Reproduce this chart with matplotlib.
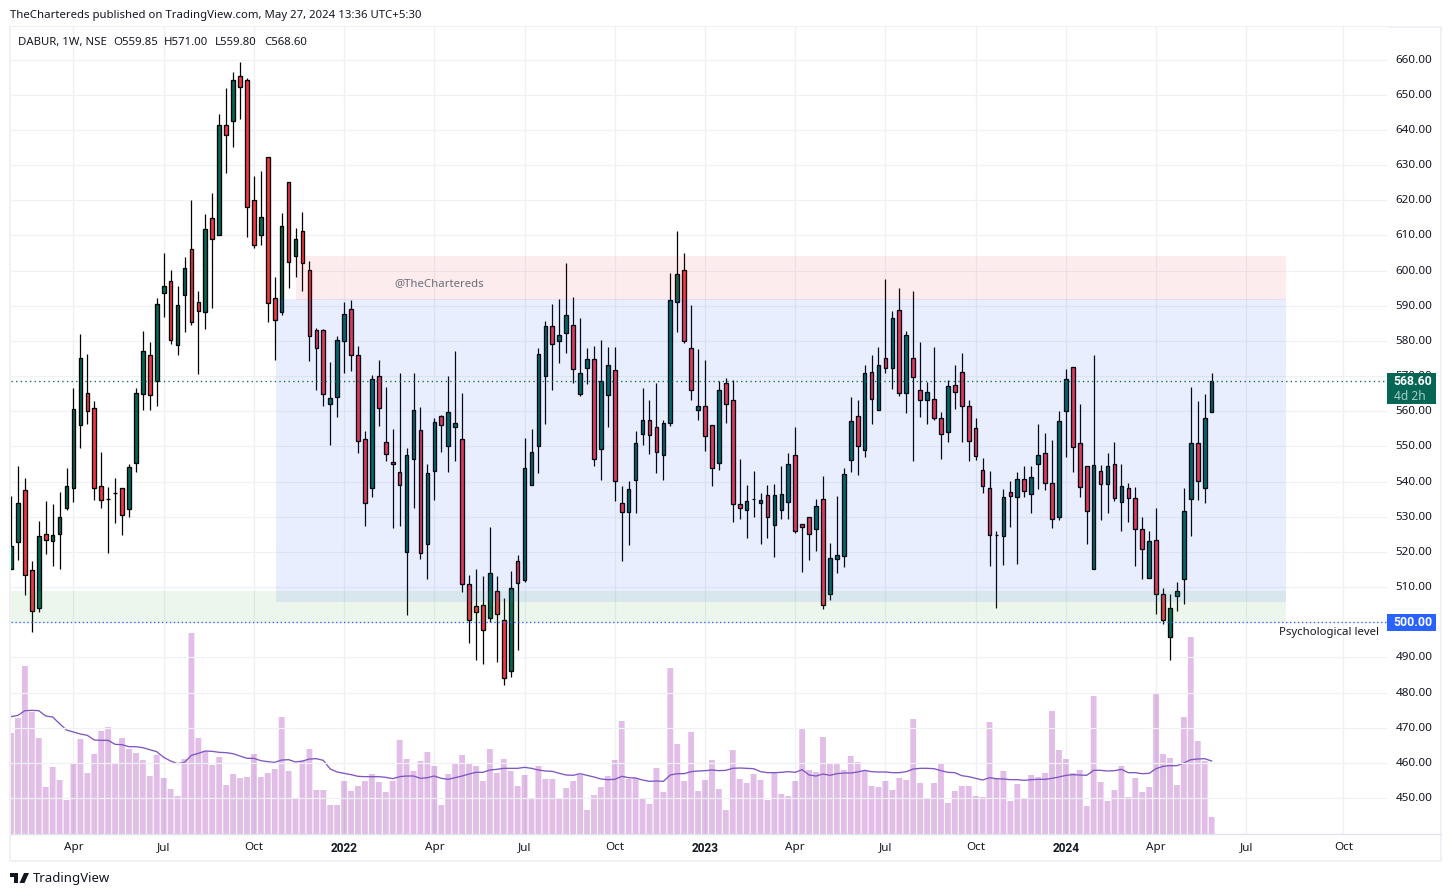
import matplotlib
matplotlib.use("Agg")
import matplotlib.pyplot as plt
from matplotlib.patches import Rectangle, Polygon
from matplotlib.lines import Line2D
from matplotlib.transforms import ScaledTranslation

opens = [515.1,522.8,537.6,514.8,504,525.1,523.1,525.1,532.4,538.2,556,565.2,560.9,538.7,535,536.7,538.2,532.2,545.2,564.8,
576,568.5,593.6,597,578.8,593,606.2,591.1,588.2,615,610.1,641.5,642.6,655.2,654.3,620.1,610.1,632.4,592.2,588.2,
625.2,604.2,611.3,600.2,583.1,583.1,562,564,580,589.2,576.1,552.1,538.1,570.1,551.3,545.6,542.7,519.9,546.4,554.7,
522.2,543,558.7,550.1,555.6,552.1,510.8,504.6,504.8,501.3,508.8,500.6,486.2,517.4,512,539,550.1,570.1,584.3,580,
582.3,584.6,565,572.4,574.9,549.2,564.7,571.8,533.9,531.3,540.5,553.6,557.5,555.6,547.6,556.7,591.2,600.3,578.1,560.3,
561.5,556.1,545.3,568.1,563.2,533.6,531.9,535,533.9,536.2,527.6,531.9,534.2,547.6,527.9,529.9,526.5,535,508,517.9,
518.8,546.2,558.7,549,571.2,560.4,575.2,572.4,588.9,565.2,575.2,566.1,563.2,563.5,558.1,554.1,567.5,571.2,561.5,555.3,
543.3,538.2,524.8,524.5,537,535.6,540.7,536.5,545,548.1,539.6,529.9,560.1,572.6,551,544.4,515.1,543,539.3,545,
534.2,538.2,535.3,526.5,512.5,523.4,508,495.7,507.4,512.3,535,551,538.2,559.85]
highs = [536,544.5,541.1,517.5,528.8,534.6,533.7,537.1,544,566.5,582,576.2,562.8,548.5,538.6,541.1,538.2,545.1,566.5,582.9,
579.8,592.3,605.1,600.3,595.7,604,620.2,594.3,616.2,622.2,644.4,651.8,656.4,659.2,654.7,626.8,628.2,632.4,598.3,616.5,
625.2,612.2,616.8,602.8,583.7,583.4,574.1,581.5,591.2,591.5,578.7,554.4,570.4,574.7,567,555.1,571,549.6,571,561.1,
545,558.1,558.9,569.9,577,565.3,513.5,515.2,513.2,527.2,513.2,506.9,514.5,519.1,552.4,555.1,578.1,585.6,590.6,591.8,
602.3,592.4,586.4,578.1,578.7,580.2,578.4,578.2,538.7,540.2,554.4,566.7,563.2,568.1,557.5,599.2,611.2,605.1,590.1,577.6,
574.5,556.1,568.6,569.6,569,546.5,539.1,543.1,536.8,539.1,539.4,544.5,548.2,555.4,528,530,535.1,541.7,522.6,536,
544,564.2,563.3,573.3,575.9,578.2,597.5,588.4,595,582.9,594.1,579.6,568.2,578.2,559.8,569,573.3,576.7,563.3,558.1,
546.8,543.1,525.9,538,540.3,542.7,544.5,544.5,556.5,553.7,551.7,560.2,571.9,572.6,562.2,544.4,575.9,544.7,548,551.4,
545.1,539.7,538.6,530,526,532.6,509.8,508.1,511.4,538.2,567,562.8,565,571]
lows = [515.1,517.6,507.9,497.1,503,519.3,516,515.2,532,534.3,549.7,556.3,534.9,532.4,519.6,528.1,524.7,529.8,542.6,560.4,
560.4,561.6,586.7,579,576.1,582.4,584.4,570.7,583.3,589.5,610,627.7,635.1,643.1,609.5,606.3,607.4,585.3,574.6,587.3,
595.1,598.3,594.3,574.3,566.1,561.6,550.4,558.5,570.8,571.4,548.1,527.3,535.5,555.7,545.8,526.7,527.3,502.2,532.4,517.9,
512.4,534.9,548.3,542.6,545.8,508.5,494.2,489.4,488.2,500.2,488.8,482.2,484.5,492.2,511.4,539,542.5,556.4,566,573.7,
576.5,568.1,564.3,567.8,544.3,540.6,555.5,534.4,517.3,522.1,531,550.3,547.8,542.4,540.6,555.7,582.5,579.4,563.2,557.5,
548.6,538.7,543.2,556.6,528.4,529.5,524.1,529.8,522.4,524.1,518.7,529.3,529.3,525.3,514.4,517.6,520.4,503.9,506.2,513.9,
515.6,542.6,541.8,546.9,556.3,560.4,570.8,566.3,564.3,559.4,545.8,558.3,556.3,557.5,546.3,551.2,560.6,551.2,545.8,546.1,
536.7,516.1,504.2,516.4,527,516.7,535.5,531.2,537.8,537.5,526.7,529.2,546.9,542.6,535.5,522.4,515.1,529,531.2,534.4,
526.1,528.4,515.9,512.2,512.5,502.5,499.4,489.4,503.3,505.3,524.4,534.9,533.8,559.8]
closes = [521.6,533.9,513.4,503.1,524.5,523.4,524.8,529.9,538.7,560.7,575.2,560.1,538.2,534.8,535,536.9,530.5,544.2,565.2,577.1,
564.6,590.5,595.6,580.2,590.2,600.7,585.4,588.5,611.9,609,641.5,638.6,654.3,652.3,618.1,607.3,615.3,590.8,585.9,612.7,
602.5,609,602.2,581.4,577.9,564.8,563.7,580.2,587.7,576,551.5,533.8,569.2,561,547.9,545,539,547.6,560.4,519.7,
542.5,557,556.1,559.8,556.7,510.8,500.6,503,497.7,514,502.3,484.2,509.7,511.1,543.9,548.4,576.4,584.3,579.2,581.8,
587.5,572.1,570.9,574.9,546.4,568.7,573.2,540.2,531.3,537.9,551,557.5,553.3,548.4,556.7,591.5,598.9,580,566.1,561.5,
553,543.9,566.1,562.1,533.6,532.5,534.5,535,534.8,529.9,536.2,536.5,545,525.9,527.1,525.1,533,504.8,518.2,519.1,
542.2,557.3,550.1,570.9,563.5,573.2,572.4,586.6,565.2,581.8,569.8,563.2,565.5,558.1,553.6,567.2,565.5,561.5,551.6,547.3,
538.7,524.8,524.8,535.6,535.9,540.7,537.3,541.3,547.6,539.6,529.3,557.3,569.2,549.9,538.5,531.6,544.7,539.3,544.4,535.3,
538.7,535.3,526.5,520.8,523.1,508,500.6,504,508.8,531.6,551,540.2,558.1,568.6]
volumes = [3.03,3.48,5.04,3.66,2.88,1.41,2.01,1.62,1.02,2.10,2.85,1.83,2.40,3.09,3.21,2.13,2.88,2.55,2.43,2.22,
1.74,2.37,1.68,1.35,1.14,2.25,6.03,2.88,2.49,2.07,2.31,1.47,1.80,1.68,1.71,2.40,1.71,1.83,1.95,3.51,
1.89,1.08,2.19,2.55,1.32,1.32,0.87,0.87,1.59,1.29,1.44,1.59,1.80,1.56,1.26,1.59,2.82,2.25,1.89,2.19,
2.46,2.04,0.87,1.80,2.10,2.37,2.10,2.04,1.59,2.55,1.83,2.25,1.89,1.44,1.77,1.08,2.04,1.65,1.65,1.08,
1.38,1.59,1.77,0.72,1.17,1.41,1.74,2.22,3.39,1.65,1.68,1.05,0.90,1.98,1.26,4.98,2.70,1.59,3.06,1.29,
1.62,2.22,1.35,0.72,2.52,1.65,1.53,1.80,1.62,1.02,1.83,1.20,1.14,1.59,3.15,1.92,1.86,2.91,2.10,2.13,
1.92,2.34,2.16,1.89,1.44,1.41,1.59,1.32,1.68,1.62,3.45,1.53,1.05,1.53,2.13,0.93,1.29,1.44,1.44,1.14,
1.11,3.36,1.65,1.89,0.99,1.50,1.05,1.77,1.71,1.83,3.69,2.52,2.25,1.83,1.92,0.84,4.14,1.56,0.99,1.32,
2.04,1.11,1.68,1.26,1.41,4.23,2.40,2.28,1.47,3.51,5.91,2.79,2.19,0.51]
volume_ma = [3.52,3.56,3.70,3.71,3.70,3.54,3.51,3.31,3.12,3.06,3.00,2.96,2.82,2.81,2.81,2.69,2.68,2.62,2.62,2.59,
2.53,2.47,2.30,2.19,2.11,2.15,2.36,2.42,2.49,2.48,2.45,2.44,2.41,2.34,2.27,2.27,2.20,2.17,2.15,2.22,
2.23,2.16,2.19,2.25,2.26,2.21,1.95,1.86,1.82,1.78,1.73,1.72,1.72,1.72,1.70,1.66,1.72,1.74,1.74,1.67,
1.69,1.74,1.67,1.64,1.69,1.74,1.80,1.85,1.85,1.92,1.94,1.97,1.97,1.97,2.00,1.97,1.92,1.89,1.88,1.82,
1.77,1.76,1.81,1.76,1.71,1.65,1.63,1.64,1.73,1.69,1.68,1.62,1.58,1.59,1.58,1.77,1.81,1.81,1.87,1.89,
1.90,1.92,1.90,1.91,1.97,1.98,1.97,1.96,1.87,1.84,1.84,1.85,1.87,1.85,1.93,1.77,1.74,1.80,1.76,1.81,
1.83,1.83,1.86,1.91,1.87,1.86,1.86,1.84,1.84,1.87,1.95,1.97,1.97,1.96,1.90,1.85,1.84,1.75,1.72,1.67,
1.62,1.69,1.66,1.65,1.63,1.63,1.61,1.63,1.64,1.64,1.67,1.71,1.76,1.78,1.77,1.76,1.91,1.91,1.89,1.90,
1.94,1.84,1.84,1.81,1.82,1.96,2.03,2.05,2.05,2.13,2.23,2.25,2.26,2.19]
tick_positions = [9,22,35,48,61,74,87,100,113,126,139,152,165,178,192]
tick_labels = ["Apr","Jul","Oct","2022","Apr","Jul","Oct","2023","Apr","Jul","Oct","2024","Apr","Jul","Oct"]
price_ticks = list(range(450,661,10))
current_price = 568.60
level_price = 500.00
zones = [("red",41.07,183.7,591.6,604.2),("blue",38.2,183.7,505.9,592.0),("green",0.0,183.7,500.0,508.9)]

W,H = 1451,896
FONT = "Noto Sans"
BOLD = "Roboto"
UP,DOWN = "#056656","#f23645"
TXT = "#131722"
plt.rcParams["font.family"] = FONT
fig = plt.figure(figsize=(W/100,H/100),dpi=100,facecolor="white")
L,R,T,B = 11,1387,27.5,834
rect = [L/W,1-B/H,(R-L)/W,(B-T)/H]
axv = fig.add_axes(rect,zorder=1)
ax = fig.add_axes(rect,zorder=2)
ax.patch.set_alpha(0)
PXW = 6.94
xlim = (0,(R-L)/PXW)
ylim = (500-(B-622.3)/3.517,500+(622.3-T)/3.517)
for a in (ax,axv):
    a.set_xlim(*xlim)
    for s in a.spines.values(): s.set_visible(False)
axv.set_ylim(0,(B-T)/33.33)
ax.set_ylim(*ylim)
# grid
for t in tick_positions:
    axv.axvline(t,color="#eef0f4",lw=1.0,zorder=0)
axv.set_xticks([]); axv.set_yticks([])
idx = list(range(len(opens)))
for p in price_ticks:
    ax.axhline(p,color="#f0f1f5",lw=0.9,zorder=0)
# volume
vol_bars = axv.bar(idx,volumes,width=0.84,color="#9c27b0",alpha=0.3,linewidth=0,zorder=2)
for b in vol_bars:
    b.set_snap(False)
axv.plot(idx,volume_ma,color="#7e57c2",lw=0.95,zorder=3)
# candles
cols = [UP if c>=o else DOWN for o,c in zip(opens,closes)]
ax.vlines(idx,lows,highs,color="black",lw=0.9,zorder=3)
ax.bar(idx,[c-o for o,c in zip(opens,closes)],bottom=opens,width=0.53,color=cols,edgecolor="black",linewidth=0.95,zorder=4)
# zones
zc = {"red":"#f23645","blue":"#2962ff","green":"#4caf50"}
za = {"red":0.09,"blue":0.1,"green":0.1}
for name,x0,x1,y0,y1 in zones:
    ax.add_patch(Rectangle((x0,y0),x1-x0,y1-y0,facecolor=zc[name],alpha=za[name],lw=0,zorder=5))
# levels
ax.axhline(current_price,color=UP,lw=0.95,ls=(0,(1,2.5)),zorder=6)
ax.axhline(level_price,color="#2962ff",lw=0.95,ls=(0,(1,2)),zorder=6)
ax.text((394-L)/PXW,(622.3-283.5)/3.517+500,"@TheChartereds",fontsize=8.2,color="#6a6d78",va="center",ha="left",zorder=7)
ax.text((1329-L)/PXW,(622.3-633)/3.517+500,"Psychological level",fontsize=8.2,color=TXT,va="center",ha="center",zorder=7)
# axes labels
ax.set_yticks(price_ticks,[f"{p:.2f}" for p in price_ticks])
ax.yaxis.tick_right()
ax.tick_params(axis="y",length=0,pad=6,labelsize=8.4,labelcolor=TXT)
ax.set_xticks(tick_positions,tick_labels)
ax.tick_params(axis="x",length=0,pad=6,labelsize=8.4,labelcolor=TXT)
for lab in ax.get_xticklabels():
    if lab.get_text().startswith("20"):
        lab.set_fontfamily(BOLD); lab.set_fontweight("bold"); lab.set_fontsize(8.6)
shift_up = ScaledTranslation(0,1/100,fig.dpi_scale_trans)
for tick in ax.yaxis.get_major_ticks():
    tick.label2.set_transform(tick.label2.get_transform()+shift_up)

def fx(x): return x/W
def fy(y): return 1-y/H
# frame and time-axis line
fig.add_artist(Rectangle((fx(10.2),fy(860.8)),(1440.8-10.2)/W,(860.8-27.2)/H,fill=False,ec="#f0f0f6",lw=1.4,zorder=0.5))
fig.add_artist(Line2D([fx(11),fx(1440.5)],[fy(833.6),fy(833.6)],color="#e0e3eb",lw=1.0,zorder=3))
# price boxes
fig.add_artist(Rectangle((fx(1387),fy(403.7)),49/W,30.7/H,fc=UP,ec="none",zorder=10))
fig.add_artist(Rectangle((fx(1387),fy(630.7)),49/W,16.7/H,fc="#2962ff",ec="none",zorder=10))
fig.text(fx(1413),fy(381.5),"568.60",color="white",fontsize=8.8,family=BOLD,fontweight="bold",ha="center",va="center",zorder=11)
fig.text(fx(1410),fy(396),"4d 2h",color="#a5cfc6",fontsize=8.6,ha="center",va="center",zorder=11)
fig.text(fx(1413),fy(622.5),"500.00",color="white",fontsize=8.8,family=BOLD,fontweight="bold",ha="center",va="center",zorder=11)
# header
fig.text(fx(10),fy(15.7),"TheChartereds published on TradingView.com, May 27, 2024 13:36 UTC+5:30",fontsize=8.2,color=TXT,va="center",ha="left")
fig.text(fx(18),fy(42.7),"DABUR, 1W, NSE",fontsize=8.2,color=TXT,va="center",ha="left")
fig.text(fx(113),fy(42.7),"O559.85",fontsize=8.2,color=TXT,va="center",ha="left")
fig.text(fx(164),fy(42.7),"H571.00",fontsize=8.2,color=TXT,va="center",ha="left")
fig.text(fx(215),fy(42.7),"L559.80",fontsize=8.2,color=TXT,va="center",ha="left")
fig.text(fx(264),fy(42.7),"C568.60",fontsize=8.2,color=TXT,va="center",ha="left")
# footer logo + name
fig.add_artist(Polygon([(fx(10),fy(873)),(fx(18),fy(873)),(fx(18),fy(883)),(fx(14),fy(883)),(fx(14),fy(877)),(fx(10),fy(877))],closed=True,fc=TXT,ec="none"))
fig.add_artist(Polygon([(fx(24),fy(873)),(fx(29),fy(873)),(fx(24.5),fy(883)),(fx(19.5),fy(883))],closed=True,fc=TXT,ec="none"))
fig.text(fx(33),fy(878.5),"TradingView",fontsize=9.5,color=TXT,va="center",ha="left")
fig.savefig("out.png",dpi=100)
